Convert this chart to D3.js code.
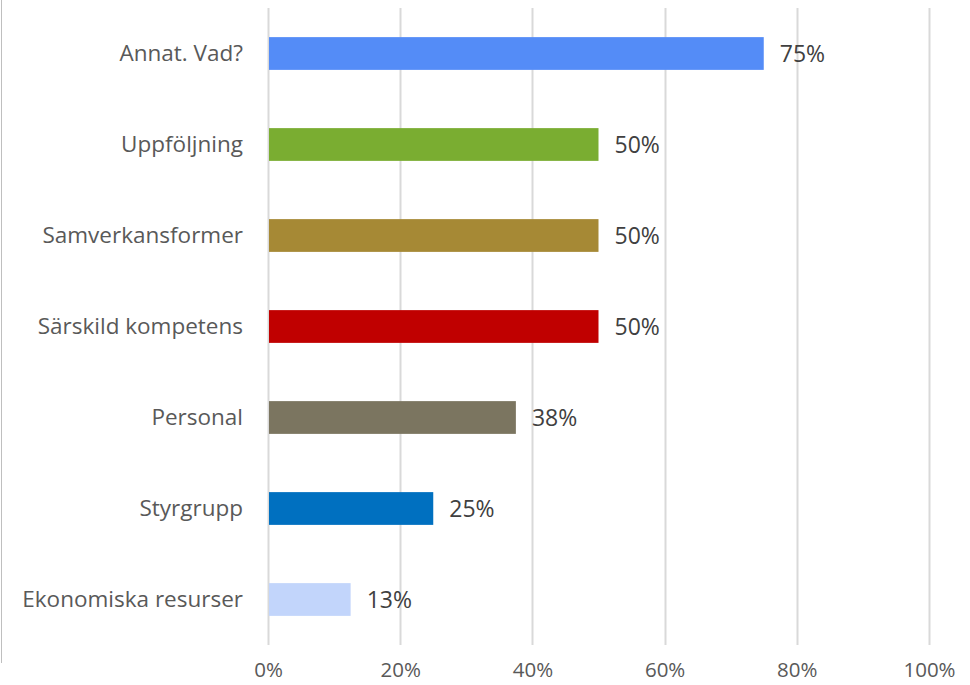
<!DOCTYPE html>
<html>
<head>
<meta charset="utf-8">
<script src="https://cdn.jsdelivr.net/npm/d3@7"></script>
<style>
  body { margin: 0; background: #fff; }
  svg text { font-family: "Open Sans", "Noto Sans", sans-serif; }
</style>
</head>
<body>
<div id="chart"></div>
<script>
// categories, top to bottom
var categories = ["Annat. Vad?", "Uppföljning", "Samverkansformer", "Särskild kompetens", "Personal", "Styrgrupp", "Ekonomiska resurser"];
var values = [0.75, 0.50, 0.50, 0.50, 0.375, 0.25, 0.125];
var colors = ["#548cf7", "#7aad31", "#a68935", "#c00000", "#7b7560", "#0070c0", "#c2d5fb"];
var ticks = [0, 0.2, 0.4, 0.6, 0.8, 1.0];

var width = 970, height = 685;
var margin = {top: 8, right: 41, bottom: 40, left: 268};

var svg = d3.select("#chart").append("svg")
    .attr("width", width)
    .attr("height", height);

// outer frame line at left
svg.append("line")
    .attr("x1", 1.5).attr("x2", 1.5)
    .attr("y1", 0).attr("y2", 663)
    .attr("stroke", "#bfbfbf")
    .attr("stroke-width", 1);

var x = d3.scaleLinear().domain([0, 1]).range([margin.left, width - margin.right]);
var y = d3.scaleBand().domain(categories).range([margin.top, height - margin.bottom]).paddingInner(0.64).paddingOuter(0.32);

// gridlines
svg.append("g").selectAll("line")
    .data(ticks)
    .enter().append("line")
    .attr("x1", function(d) { return Math.round(x(d)) + 0.5; })
    .attr("x2", function(d) { return Math.round(x(d)) + 0.5; })
    .attr("y1", margin.top)
    .attr("y2", height - margin.bottom)
    .attr("stroke", "#d9d9d9")
    .attr("stroke-width", 2);

// bars
svg.append("g").selectAll("rect")
    .data(categories)
    .enter().append("rect")
    .attr("x", x(0) + 1)
    .attr("y", function(d) { return y(d); })
    .attr("width", function(d, i) { return x(values[i]) - x(0) - 1; })
    .attr("height", y.bandwidth())
    .attr("fill", function(d, i) { return colors[i]; });

// value labels
svg.append("g").selectAll("text")
    .data(categories)
    .enter().append("text")
    .attr("x", function(d, i) { return x(values[i]) + 16; })
    .attr("y", function(d) { return y(d) + y.bandwidth() / 2; })
    .attr("dy", "0.35em")
    .attr("font-size", 23)
    .attr("fill", "#404040")
    .text(function(d, i) { return d3.format(".0%")(values[i]); });

// category axis
var yAxis = d3.axisLeft(y).tickSize(0).tickPadding(25);
var gy = svg.append("g")
    .attr("transform", "translate(" + margin.left + ",0)")
    .call(yAxis);
gy.select(".domain").remove();
gy.selectAll("text")
    .attr("font-size", 22.5)
    .attr("fill", "#595959");

// value axis
var xAxis = d3.axisBottom(x).tickValues(ticks).tickSize(0).tickPadding(17).tickFormat(d3.format(".0%"));
var gx = svg.append("g")
    .attr("transform", "translate(0," + (height - margin.bottom) + ")")
    .call(xAxis);
gx.select(".domain").remove();
gx.selectAll("text")
    .attr("font-size", 20.5)
    .attr("fill", "#595959");
</script>
</body>
</html>
